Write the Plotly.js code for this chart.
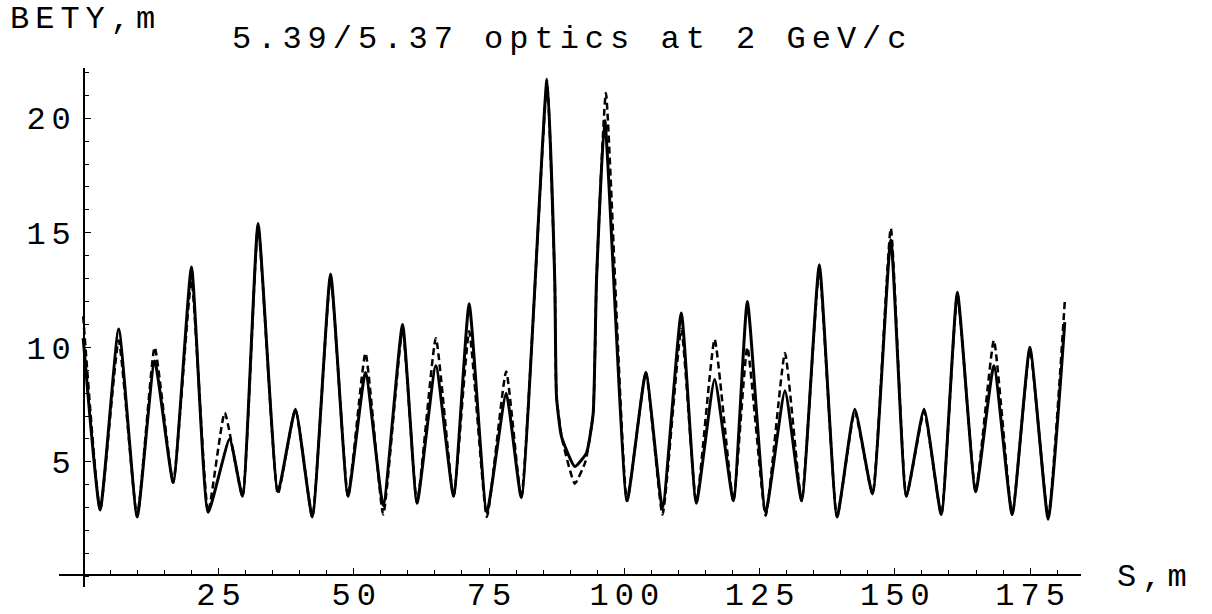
<!DOCTYPE html>
<html>
<head>
<meta charset="utf-8">
<script src="https://cdn.plot.ly/plotly-3.0.1.min.js"></script>
<style>
  html, body { margin: 0; padding: 0; background: #fff; }
  #chart { width: 1212px; height: 614px; }
  svg text { letter-spacing: 6px; }
</style>
</head>
<body>
<div id="chart"></div>
<script>
// S positions (m) and BETY values (m)
const sSolid = [0, 3.14, 6.56, 9.98, 13.21, 16.63, 20.01, 23.09, 27.06, 29.44, 32.32, 35.99, 39.22, 42.34, 45.72, 48.94, 52.17, 55.45, 59.02, 61.7, 65.17, 68.45, 71.33, 74.6, 78.17, 80.96, 85.72, 87.15, 87.47, 88.39, 90.85, 93.0, 94.24, 94.86, 96.39, 100.51, 103.98, 107.06, 110.53, 113.31, 116.69, 120.16, 122.74, 126.12, 129.69, 132.77, 136.04, 139.32, 142.6, 145.87, 149.25, 152.13, 155.4, 158.58, 161.55, 164.93, 168.3, 171.68, 174.95, 178.33, 181.4];
const betySolid = [10.4, 2.9, 10.8, 2.6, 9.4, 4.1, 13.5, 2.8, 6.0, 3.5, 15.4, 3.7, 7.3, 2.6, 13.2, 3.5, 8.9, 3.1, 11.0, 3.2, 9.2, 3.5, 11.9, 2.8, 8.0, 3.45, 21.7, 12.9, 7.85, 6.1, 4.8, 5.38, 7.1, 12.9, 19.9, 3.3, 8.9, 3.0, 11.5, 3.2, 8.6, 3.3, 12.0, 2.8, 8.1, 3.3, 13.6, 2.6, 7.3, 3.6, 14.7, 3.5, 7.3, 2.7, 12.4, 3.7, 9.2, 2.7, 10.0, 2.5, 11.1];

const sDashed = [0, 3.14, 6.56, 9.98, 13.21, 16.63, 20.01, 23.09, 26.16, 29.44, 32.32, 35.99, 39.22, 42.34, 45.72, 48.94, 52.17, 55.45, 59.02, 61.7, 65.17, 68.45, 71.33, 74.6, 78.17, 80.96, 85.72, 87.15, 87.47, 88.5, 90.85, 92.8, 94.24, 94.86, 96.6, 100.51, 103.98, 107.06, 110.53, 113.31, 116.69, 120.16, 122.74, 126.12, 129.69, 132.77, 136.04, 139.32, 142.6, 145.87, 149.25, 152.13, 155.4, 158.58, 161.55, 164.93, 168.3, 171.68, 174.95, 178.33, 181.4];
const betyDashed = [11.35, 2.9, 10.3, 2.6, 10.0, 4.1, 12.9, 2.8, 7.15, 3.5, 15.3, 3.6, 7.3, 2.6, 13.1, 3.5, 9.75, 2.7, 10.8, 3.2, 10.4, 3.5, 10.7, 2.6, 8.95, 3.45, 21.5, 12.9, 7.85, 6.0, 4.05, 5.0, 7.1, 12.9, 21.1, 3.3, 8.9, 2.7, 10.8, 3.2, 10.35, 3.3, 10.0, 2.65, 9.75, 3.3, 13.4, 2.6, 7.2, 3.6, 15.2, 3.5, 7.2, 2.7, 12.3, 3.7, 10.3, 2.7, 9.9, 2.6, 12.0];

const xTickVals = [25, 50, 75, 100, 125, 150, 175];
const xTickText = ["25", "50", "75", "100", "125", "150", "175"];
const yTickVals = [5, 10, 15, 20];
const yTickText = ["5", "10", "15", "20"];

const titleText = "5.39/5.37 optics at 2 GeV/c";
const yLabel = "BETY,m";
const xLabel = "S,m";

const FONT = {family: "'Liberation Mono', 'Courier New', monospace", size: 32, color: "#000"};

const traces = [
  {x: sSolid, y: betySolid, type: "scatter", mode: "lines",
   line: {color: "#000", width: 3, shape: "spline", smoothing: 0.45}, hoverinfo: "skip"},
  {x: sDashed, y: betyDashed, type: "scatter", mode: "lines",
   line: {color: "#000", width: 2.5, dash: "7px,4px", shape: "spline", smoothing: 0.45}, hoverinfo: "skip"}
];

const axisCommon = {
  showline: true, linecolor: "#000", linewidth: 1.5,
  ticks: "inside", ticklen: 6, tickwidth: 1, tickcolor: "#000",
  showgrid: false, zeroline: false, tickfont: FONT, tickmode: "array",
  fixedrange: true
};

const layout = {
  width: 1212, height: 614,
  margin: {l: 59, r: 131, t: 68, b: 27, pad: 0},
  paper_bgcolor: "#fff", plot_bgcolor: "#fff",
  showlegend: false,
  title: {text: titleText, font: FONT, x: 232 / 1212, xref: "container", xanchor: "left",
          y: 1 - 37 / 614, yref: "container", yanchor: "middle"},
  xaxis: Object.assign({}, axisCommon, {
    range: [-4.47, 184.4], anchor: "free", position: 0.0245,
    tickvals: xTickVals, ticktext: xTickText,
    ticklabelstandoff: -9, ticklabelshift: 3,
    minor: {tickmode: "linear", tick0: 0, dtick: 5, ticks: "inside", ticklen: 4, tickwidth: 1, tickcolor: "#000", showgrid: false}
  }),
  yaxis: Object.assign({}, axisCommon, {
    range: [-0.46, 22.19], anchor: "free", position: 0.0237,
    tickvals: yTickVals, ticktext: yTickText,
    minor: {tickmode: "linear", tick0: 0, dtick: 1, ticks: "inside", ticklen: 4, tickwidth: 1, tickcolor: "#000", showgrid: false}
  }),
  annotations: [
    {text: yLabel, xref: "paper", yref: "paper", x: -0.0502, y: 1.0925, xanchor: "left", yanchor: "middle", showarrow: false, font: FONT},
    {text: xLabel, xref: "paper", yref: "paper", x: 1.0333, y: 0.0187, xanchor: "left", yanchor: "middle", showarrow: false, font: FONT}
  ]
};

Plotly.newPlot("chart", traces, layout, {staticPlot: true, displayModeBar: false});
</script>
</body>
</html>
